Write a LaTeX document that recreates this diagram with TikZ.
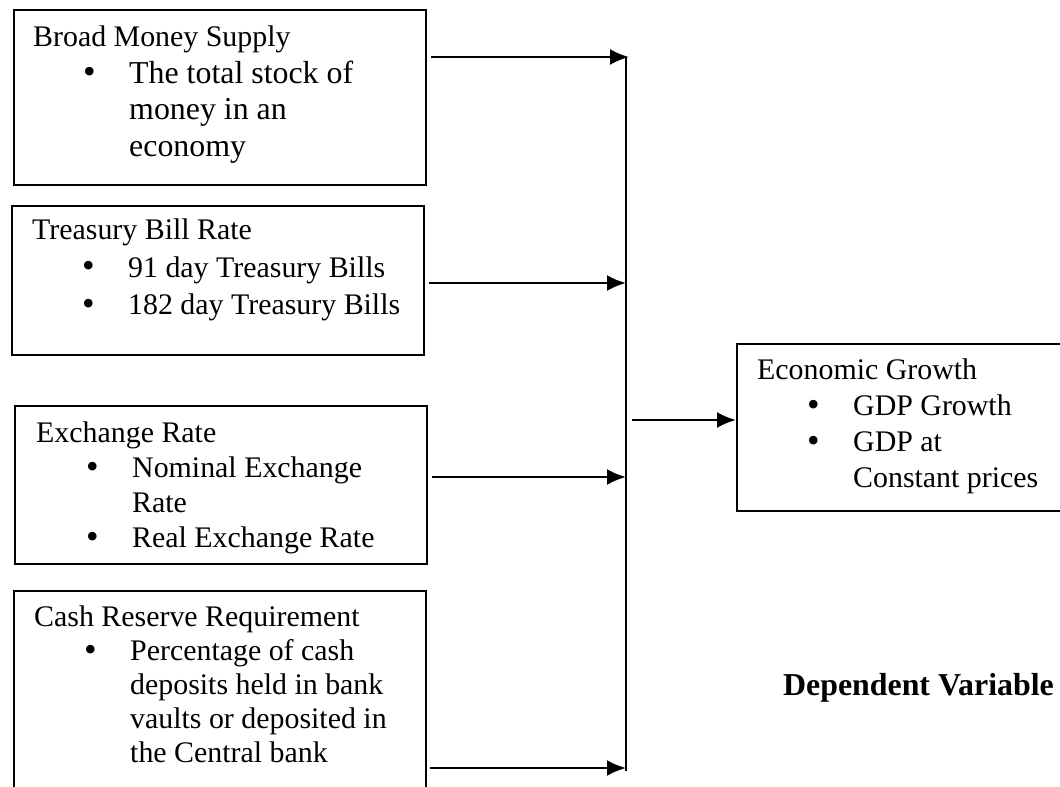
\documentclass[tikz,border=0pt]{standalone}
\usepackage{fontspec}
\setmainfont{Liberation Serif}
\usetikzlibrary{arrows.meta}

\newcommand{\bitem}{\makebox[96bp][l]{\hspace{50bp}\raisebox{-0.5bp}{\fontsize{36}{0}\selectfont\textbullet}}}
\newcommand{\bcont}{\hspace*{96bp}}

\begin{document}
\begin{tikzpicture}[x=1bp,y=-1bp,
    box/.style={draw,line width=2bp,anchor=north west,inner sep=0pt,minimum width=412bp},
    txt/.style={anchor=north west,align=left,inner sep=0pt,font=\fontsize{30}{35}\selectfont},
    arr/.style={line width=2.4bp,-{Latex[length=19bp,width=16bp]}}]
  \useasboundingbox (0,0) rectangle (1060,787);
  \clip (0,0) rectangle (1060,787);

  % independent variables
  \draw (13,9) node[box,minimum height=175bp] (bms) {};
  \draw (33,26) node[txt,font=\fontsize{32}{36.5}\selectfont] (bmsT) {{\fontsize{30}{36.5}\selectfont Broad Money Supply}\\
    \bitem The total stock of\\
    \bcont money in an\\
    \bcont economy};

  \draw (11,205) node[box,minimum height=149bp] (tbr) {};
  \draw (32,219) node[txt,font=\fontsize{30}{37.5}\selectfont] (tbrT) {Treasury Bill Rate\\
    \bitem 91 day Treasury Bills\\
    \bitem 182 day Treasury Bills};

  \draw (14,405) node[box,minimum height=158bp] (exr) {};
  \draw (36,422) node[txt] (exrT) {Exchange Rate\\
    \bitem Nominal Exchange\\
    \bcont Rate\\
    \bitem Real Exchange Rate};

  \draw (13,590) node[box,minimum height=215bp] (crr) {};
  \draw (34,606) node[txt,font=\fontsize{30}{34}\selectfont] (crrT) {Cash Reserve Requirement\\
    \bitem Percentage of cash\\
    \bcont deposits held in bank\\
    \bcont vaults or deposited in\\
    \bcont the Central bank};

  % dependent variable
  \draw (736,343) node[box,minimum width=334bp,minimum height=167bp] (egr) {};
  \draw (757,359) node[txt,font=\fontsize{30}{36}\selectfont] (egrT) {Economic Growth\\
    \bitem GDP Growth\\
    \bitem GDP at\\
    \bcont Constant prices};

  \draw (1054,695) node[anchor=base east,inner sep=0pt,font=\fontsize{32}{36}\selectfont\bfseries] (dv) {Dependent Variable};

  % bus line
  \coordinate (j1) at (629,57);
  \coordinate (j2) at (626,283);
  \coordinate (j3) at (626,477);
  \coordinate (j4) at (626,768);
  \coordinate (jo) at (626,420);
  \draw[line width=1.2bp] (626,57) coordinate (btop) -- (626,771) coordinate (bbot);

  \draw[arr,shorten <=4bp] (bms.east |- j1) -- (j1);
  \draw[arr,shorten <=4bp] (tbr.east |- j2) -- (j2);
  \draw[arr,shorten <=4bp] (exr.east |- j3) -- (j3);
  \draw[arr,shorten <=3bp] (crr.east |- j4) -- (j4);
  \draw[arr,shorten <=6bp] (jo) -- (jo -| egr.west);
\end{tikzpicture}
\end{document}
